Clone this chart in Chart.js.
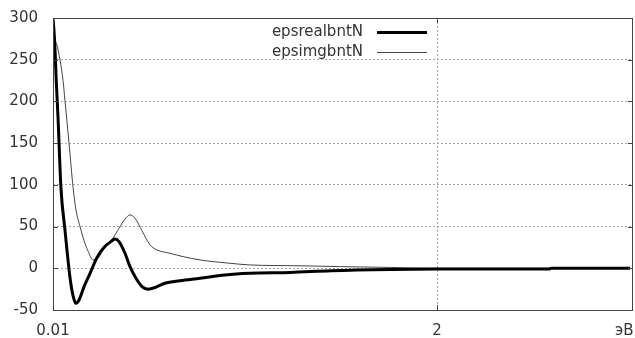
<!DOCTYPE html>
<html>
<head>
<meta charset="utf-8">
<script src="https://cdn.jsdelivr.net/npm/chart.js@4.4.1/dist/chart.umd.min.js"></script>
<style>
  html, body { margin: 0; padding: 0; background: #fff; }
  canvas { display: block; }
</style>
</head>
<body>
<canvas id="grafico" width="635" height="338"></canvas>
<script>
// Energia (eV) e valores
const xReal = [0.01, 0.015, 0.02, 0.026, 0.036, 0.051, 0.072, 0.098, 0.114, 0.129, 0.145, 0.171, 0.202, 0.238, 0.274, 0.316, 0.331, 0.352, 0.383, 0.409, 0.44, 0.471, 0.502, 0.539, 0.59, 0.668, 0.772, 0.9, 1.03, 1.24, 1.45, 1.76, 2.0, 2.58, 2.59, 3.0];
const epsReal = [300, 285, 265, 229, 181, 97, 46, -11, -33, -42, -38, -22, -6, 13, 25, 33, 35, 32, 18, 2, -12, -22, -25, -23, -18, -15, -12, -8, -6, -5, -3, -1.5, -1, -1, 0, 0];

const xImg = [0.01, 0.02, 0.03, 0.046, 0.062, 0.072, 0.093, 0.114, 0.129, 0.15, 0.171, 0.191, 0.217, 0.243, 0.269, 0.295, 0.32, 0.352, 0.383, 0.409, 0.435, 0.471, 0.513, 0.549, 0.616, 0.684, 0.772, 0.839, 0.927, 1.03, 1.29, 1.5, 1.76, 2.0, 3.0];
const epsImg = [262, 272, 268, 250, 225, 201, 150, 97, 70, 50, 33, 21, 10, 12, 22, 30, 36, 48, 59, 64, 60, 45, 28, 22, 18, 14, 10, 8, 6, 4, 3, 2, 1, 0, 0];

const labels = ['epsrealbntN', 'epsimgbntN'];
const xTicks = [0.01, 2, 2.97];
const xTickLabels = ['0.01', '2', 'эВ'];
const yTicks = [-50, 0, 50, 100, 150, 200, 250, 300];

const fonte = { family: '"DejaVu Sans", sans-serif', size: 15 };
const corTexto = '#333';
const corBorda = '#444';

// Moldura, marcas de escala e legenda no estilo gnuplot
const molduraPlugin = {
  id: 'moldura',
  afterDraw(chart) {
    const { ctx, chartArea: a, scales } = chart;
    ctx.save();
    ctx.strokeStyle = corBorda;
    ctx.lineWidth = 1;
    ctx.strokeRect(a.left + 0.5, a.top + 0.5, a.right - a.left - 1, a.bottom - a.top);
    ctx.beginPath();
    yTicks.forEach(v => {
      const y = Math.round(scales.y.getPixelForValue(v)) + 0.5;
      ctx.moveTo(a.left, y); ctx.lineTo(a.left + 5, y);
      ctx.moveTo(a.right, y); ctx.lineTo(a.right - 5, y);
    });
    [2].forEach(v => {
      const x = Math.round(scales.x.getPixelForValue(v)) + 0.5;
      ctx.moveTo(x, a.bottom); ctx.lineTo(x, a.bottom - 5);
      ctx.moveTo(x, a.top); ctx.lineTo(x, a.top + 5);
    });
    ctx.stroke();

    // Legenda
    ctx.font = '15px "DejaVu Sans", sans-serif';
    ctx.fillStyle = corTexto;
    ctx.textAlign = 'right';
    ctx.textBaseline = 'middle';
    chart.data.datasets.forEach((ds, i) => {
      const y = 32 + i * 20;
      ctx.fillText(ds.label, 363, y);
      ctx.beginPath();
      ctx.strokeStyle = ds.borderColor;
      ctx.lineWidth = ds.borderWidth;
      ctx.moveTo(377, y + 0.5);
      ctx.lineTo(427, y + 0.5);
      ctx.stroke();
    });
    ctx.restore();
  }
};

const gradeCor = (ctx, limites) => limites.includes(ctx.tick.value) ? 'rgba(0,0,0,0)' : '#aaa';

new Chart(document.getElementById('grafico').getContext('2d'), {
  type: 'line',
  data: {
    datasets: [
      {
        label: labels[0],
        data: xReal.map((x, i) => ({ x, y: epsReal[i] })),
        borderColor: '#000',
        borderWidth: 3,
        pointRadius: 0,
        cubicInterpolationMode: 'monotone'
      },
      {
        label: labels[1],
        data: xImg.map((x, i) => ({ x, y: epsImg[i] })),
        borderColor: '#444',
        borderWidth: 1,
        pointRadius: 0,
        cubicInterpolationMode: 'monotone'
      }
    ]
  },
  options: {
    responsive: false,
    animation: false,
    layout: { padding: { top: 18, right: 2, left: 0, bottom: 0 } },
    plugins: {
      legend: { display: false },
      tooltip: { enabled: false }
    },
    scales: {
      x: {
        type: 'linear',
        min: 0.01,
        max: 3.015,
        afterBuildTicks: axis => { axis.ticks = xTicks.map(v => ({ value: v })); },
        afterFit: axis => { axis.height = 28; axis.paddingLeft = 0; axis.paddingRight = 0; },
        ticks: {
          autoSkip: false,
          maxRotation: 0,
          padding: 12,
          color: corTexto,
          font: fonte,
          callback: (v, i) => xTickLabels[i]
        },
        grid: {
          drawTicks: false,
          color: ctx => ctx.tick && ctx.tick.value === 2 ? '#aaa' : 'rgba(0,0,0,0)',
          lineWidth: 1
        },
        border: { display: false, dash: [2, 2] }
      },
      y: {
        min: -50,
        max: 300,
        afterBuildTicks: axis => { axis.ticks = yTicks.map(v => ({ value: v })); },
        afterFit: axis => { axis.width = 53; axis.paddingTop = 0; axis.paddingBottom = 0; },
        ticks: {
          padding: 15,
          color: corTexto,
          font: fonte
        },
        grid: {
          drawTicks: false,
          color: ctx => gradeCor(ctx, [-50, 300]),
          lineWidth: 1
        },
        border: { display: false, dash: [2, 2] }
      }
    }
  },
  plugins: [molduraPlugin]
});
</script>
</body>
</html>
